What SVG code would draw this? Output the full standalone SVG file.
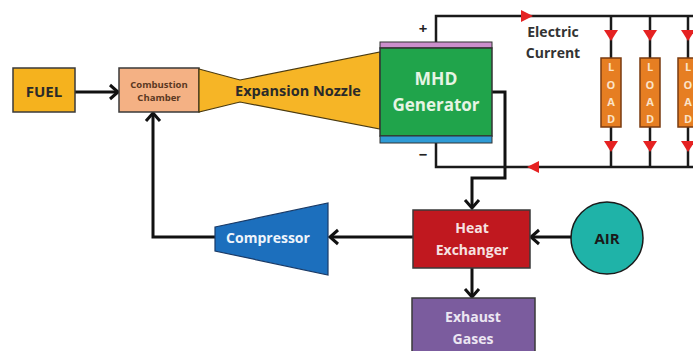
<svg xmlns="http://www.w3.org/2000/svg" width="693" height="351" viewBox="0 0 693 351">
<defs>
<style>
.t{font-family:"Open Sans","DejaVu Sans",sans-serif;font-weight:bold;text-anchor:middle}
.w{fill:none;stroke:#111;stroke-width:3;stroke-linejoin:miter}
.e{fill:none;stroke:#1a1a1a;stroke-width:2.5}
.box{stroke:#3a3a3a;stroke-width:1.5}
.ra{fill:#e52222}
.ld{fill:#e67e22;stroke:#7a3b10;stroke-width:1.5}
.lt{font-family:"Open Sans","DejaVu Sans",sans-serif;font-weight:bold;font-size:11px;fill:#fbe3c8;text-anchor:middle}
</style>
<marker id="ch" markerUnits="userSpaceOnUse" markerWidth="16" markerHeight="18" refX="13" refY="9" orient="auto">
<path d="M5,2 L13,9 L5,16" fill="none" stroke="#111" stroke-width="3"/>
</marker>
</defs>
<rect width="693" height="351" fill="#ffffff"/>

<g id="connectors">
<line class="w" x1="75" y1="92" x2="118" y2="92" marker-end="url(#ch)"/>
<polyline class="w" points="215,237 153,237 153,113" marker-end="url(#ch)"/>
<line class="w" x1="413" y1="237" x2="330" y2="237" marker-end="url(#ch)"/>
<line class="w" x1="571" y1="237" x2="531" y2="237" marker-end="url(#ch)"/>
<line class="w" x1="472" y1="268" x2="472" y2="297" marker-end="url(#ch)"/>
<polyline class="w" points="492,92 505,92 505,178 472,178 472,208" marker-end="url(#ch)"/>
<polyline class="e" points="436,42 436,16 693,16"/>
<polyline class="e" points="436,143 436,167 693,167"/>
<line class="e" x1="611" y1="16" x2="611" y2="167"/>
<line class="e" x1="650" y1="16" x2="650" y2="167"/>
<line class="e" x1="688" y1="16" x2="688" y2="167"/>
<polygon class="ra" points="521,10 533,16 521,22"/>
<polygon class="ra" points="539,161 527,167 539,173"/>
<polygon class="ra" points="604,30 618,30 611,41"/>
<polygon class="ra" points="643,30 657,30 650,41"/>
<polygon class="ra" points="681,30 695,30 688,41"/>
<polygon class="ra" points="604,141 618,141 611,152"/>
<polygon class="ra" points="643,141 657,141 650,152"/>
<polygon class="ra" points="681,141 695,141 688,152"/>
</g>

<g id="fuel">
<rect class="box" x="13" y="68" width="62" height="44" fill="#f5b21e"/>
<text class="t" x="44" y="97" font-size="15" fill="#2a2a2a">FUEL</text>
</g>

<g id="combustion-chamber">
<rect class="box" x="119" y="68" width="80" height="44" fill="#f4b184"/>
<text class="t" x="159" y="88" font-size="9.5" fill="#5a3822">Combustion</text>
<text class="t" x="159" y="101" font-size="9.5" fill="#5a3822">Chamber</text>
</g>

<g id="expansion-nozzle">
<polygon points="199,69 240,80 380,52 380,129 240,102 199,112" fill="#f6b526" stroke="#4a3a10" stroke-width="1.2"/>
<text class="t" x="298" y="96" font-size="14.5" fill="#2a2a2a">Expansion Nozzle</text>
</g>

<g id="mhd-generator">
<rect x="380" y="42" width="112" height="6" fill="#cc8fcc" stroke="#333" stroke-width="1"/>
<rect x="380" y="48" width="112" height="88" fill="#20a44b" stroke="#333" stroke-width="1.5"/>
<rect x="380" y="136" width="112" height="7" fill="#2f9bd6" stroke="#333" stroke-width="1"/>
<text class="t" x="436" y="85" font-size="17.5" fill="#e6f4e4">MHD</text>
<text class="t" x="436" y="111" font-size="17" fill="#e6f4e4">Generator</text>
</g>

<g id="terminals">
<text class="t" x="423" y="34" font-size="15" fill="#222">+</text>
<text class="t" x="423" y="160" font-size="15" fill="#222">−</text>
</g>

<g id="electric-current">
<text class="t" x="553" y="37" font-size="14" fill="#333">Electric</text>
<text class="t" x="553" y="58" font-size="14" fill="#333">Current</text>
</g>

<g id="load-1">
<rect class="ld" x="601" y="58" width="20" height="69"/>
<text class="lt" x="611" y="71">L</text><text class="lt" x="611" y="89">O</text><text class="lt" x="611" y="106">A</text><text class="lt" x="611" y="123">D</text>
</g>
<g id="load-2">
<rect class="ld" x="640" y="58" width="20" height="69"/>
<text class="lt" x="650" y="71">L</text><text class="lt" x="650" y="89">O</text><text class="lt" x="650" y="106">A</text><text class="lt" x="650" y="123">D</text>
</g>
<g id="load-3">
<rect class="ld" x="678" y="58" width="20" height="69"/>
<text class="lt" x="688" y="71">L</text><text class="lt" x="688" y="89">O</text><text class="lt" x="688" y="106">A</text><text class="lt" x="688" y="123">D</text>
</g>

<g id="compressor">
<polygon points="215,227 328,203 328,275 215,251" fill="#1c6fbd" stroke="#1a3a66" stroke-width="1.2"/>
<text class="t" x="268" y="243" font-size="14" fill="#eef4fb">Compressor</text>
</g>

<g id="heat-exchanger">
<rect class="box" x="413" y="210" width="117" height="58" fill="#c0181f"/>
<text class="t" x="472" y="233" font-size="14" fill="#f6e2e2">Heat</text>
<text class="t" x="472" y="255" font-size="14" fill="#f6e2e2">Exchanger</text>
</g>

<g id="air">
<circle cx="607" cy="238" r="36" fill="#1fb3a8" stroke="#1a1a1a" stroke-width="1.5"/>
<text class="t" x="607" y="244" font-size="15" fill="#1a1a1a">AIR</text>
</g>

<g id="exhaust-gases">
<rect class="box" x="412" y="298" width="123" height="60" fill="#7b5c9e"/>
<text class="t" x="473" y="322" font-size="14" fill="#ece6f2">Exhaust</text>
<text class="t" x="473" y="344" font-size="14" fill="#ece6f2">Gases</text>
</g>
</svg>
